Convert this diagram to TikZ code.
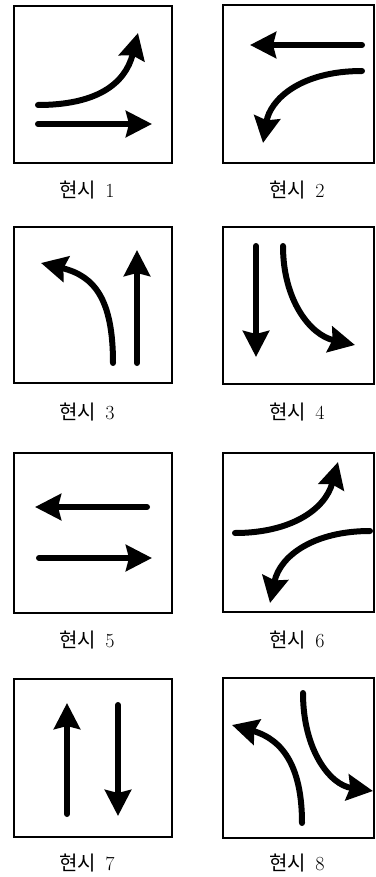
\documentclass[tikz,border=0pt]{standalone}
\usepackage{fontspec}
\newfontfamily\kr{Noto Sans CJK KR}
\usepackage{tikz}
\usetikzlibrary{arrows.meta}

\tikzset{
  frame/.style={draw, line width=1.1pt},
  lane/.style={line width=6pt, line cap=round, -{Stealth[length=26pt,width=26pt,inset=3pt]}},
  phase/.style={font=\fontsize{20}{24}\selectfont}
}

\begin{document}
\begin{tikzpicture}[x=1pt,y=-1pt]
\useasboundingbox (0,0) rectangle (375,877);
% boxes
\draw[frame] (14,6) rectangle (172,163);
\draw[frame] (223,5) rectangle (374,163);
\draw[frame] (14,227) rectangle (172,383);
\draw[frame] (223,227) rectangle (374,384);
\draw[frame] (14,453) rectangle (172,613);
\draw[frame] (223,453) rectangle (374,612);
\draw[frame] (14,679) rectangle (172,837);
\draw[frame] (223,678) rectangle (374,838);
% phase 1
\draw[lane] (38,124) -- (152,124);
\draw[lane] (38,105) .. controls (95,105) and (125,85) .. (138,33);
% phase 2
\draw[lane] (362,45) -- (250,45);
\draw[lane] (362,71) .. controls (300,71) and (270,100) .. (263,143);
% phase 3
\draw[lane] (137,363) -- (137,250);
\draw[lane] (113,363) .. controls (113,300) and (95,276) .. (41,263);
% phase 4
\draw[lane] (256,246) -- (256,357);
\draw[lane] (283,246) .. controls (283,300) and (310,335) .. (355,345);
% phase 5
\draw[lane] (147,507) -- (35,507);
\draw[lane] (39,558) -- (152,558);
% phase 6
\draw[lane] (235,533) .. controls (290,533) and (325,510) .. (338,462);
\draw[lane] (370,531) .. controls (315,531) and (280,555) .. (270,603);
% phase 7
\draw[lane] (67,814) -- (67,703);
\draw[lane] (118,705) -- (118,816);
% phase 8
\draw[lane] (302,823) .. controls (302,770) and (285,740) .. (232,725);
\draw[lane] (303,693) .. controls (303,750) and (330,785) .. (373,791);
% labels
\draw (87,190) node[phase] (lab1) {{\kr 현시}\hspace{0.45em}1};
\draw (297,190) node[phase] (lab2) {{\kr 현시}\hspace{0.45em}2};
\draw (87,412) node[phase] (lab3) {{\kr 현시}\hspace{0.45em}3};
\draw (297,412) node[phase] (lab4) {{\kr 현시}\hspace{0.45em}4};
\draw (87,640) node[phase] (lab5) {{\kr 현시}\hspace{0.45em}5};
\draw (297,640) node[phase] (lab6) {{\kr 현시}\hspace{0.45em}6};
\draw (87,863) node[phase] (lab7) {{\kr 현시}\hspace{0.45em}7};
\draw (297,863) node[phase] (lab8) {{\kr 현시}\hspace{0.45em}8};
\end{tikzpicture}
\end{document}
